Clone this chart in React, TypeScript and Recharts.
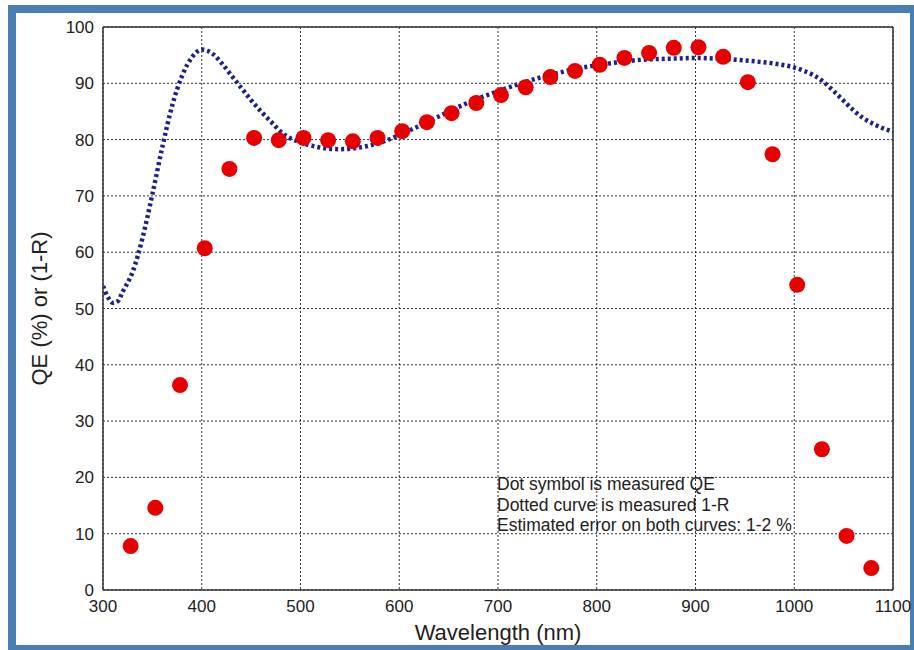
import { ComposedChart, CartesianGrid, Line, Scatter, XAxis, YAxis, ReferenceLine } from "recharts";

// measured QE (dots)
const qeWavelength = [328, 353, 378, 403, 428, 453, 478, 503, 528, 553, 578, 603, 628, 653, 678, 703, 728, 753, 778, 803, 828, 853, 878, 903, 928, 953, 978, 1003, 1028, 1053, 1078];
const qeValues = [7.8, 14.6, 36.4, 60.7, 74.8, 80.3, 79.9, 80.3, 79.9, 79.7, 80.3, 81.5, 83.1, 84.7, 86.5, 87.9, 89.3, 91.1, 92.2, 93.3, 94.5, 95.4, 96.3, 96.4, 94.7, 90.2, 77.4, 54.2, 25.0, 9.6, 3.9];

// measured 1-R (dotted curve)
const rWavelength = [300, 305, 310, 315, 320, 330, 340, 350, 360, 370, 380, 390, 400, 410, 420, 430, 440, 450, 460, 470, 480, 490, 500, 520, 540, 560, 580, 600, 620, 640, 660, 680, 700, 720, 740, 760, 780, 800, 820, 840, 860, 880, 900, 920, 940, 960, 980, 1000, 1010, 1020, 1030, 1040, 1050, 1060, 1070, 1080, 1090, 1100];
const rValues = [54, 52, 51, 51.3, 53, 56.5, 62.5, 70.3, 78.6, 86, 91.3, 94.6, 96, 95.4, 93.6, 91.4, 89.2, 87, 85, 83.2, 81.4, 80.2, 79.5, 78.6, 78.3, 78.6, 79.4, 80.8, 82.4, 84.1, 85.8, 87.3, 88.6, 89.8, 90.9, 91.8, 92.6, 93.2, 93.7, 94.1, 94.3, 94.4, 94.5, 94.4, 94.2, 93.9, 93.5, 92.8, 92.2, 91.4, 90.2, 88.6, 86.9, 85.2, 83.8, 82.8, 82.0, 81.4];

const xTicks = [300, 400, 500, 600, 700, 800, 900, 1000, 1100];
const yTicks = [0, 10, 20, 30, 40, 50, 60, 70, 80, 90, 100];

const notes = [
  "Dot symbol is measured QE",
  "Dotted curve is measured 1-R",
  "Estimated error on both curves: 1-2 %",
];

const qeData = qeWavelength.map((wl, i) => ({ wl, qe: qeValues[i] }));
const rData = rWavelength.map((wl, i) => ({ wl, r: rValues[i] }));

const font = '"Liberation Sans", Arial, sans-serif';

const RedDot = (props: any) => (
  <circle cx={props.cx} cy={props.cy} r={8} fill="#e80000" />
);

export default function App() {
  return (
    <div
      style={{
        marginLeft: 8,
        marginTop: 5,
        width: 906,
        height: 645,
        boxSizing: "border-box",
        borderStyle: "solid",
        borderColor: "#4b7fb4",
        borderWidth: "8px 4px 5px 8px",
        background: "#fff",
        position: "relative",
        fontFamily: font,
      }}
    >
      <style>{`body{margin:0;overflow:hidden}.recharts-surface{overflow:visible}`}</style>
      <ComposedChart
        width={894}
        height={632}
        margin={{ top: 14, right: 17, bottom: 0, left: 0 }}
        style={{ fontFamily: font }}
      >
        <CartesianGrid stroke="#333" strokeDasharray="2 2" strokeWidth={1} />
        <XAxis
          type="number"
          dataKey="wl"
          domain={[300, 1100]}
          ticks={xTicks}
          allowDataOverflow
          height={55}
          tickSize={0}
          tickMargin={10}
          tick={{ fontSize: 17, fill: "#222" }}
          axisLine={{ stroke: "#333", strokeWidth: 1.5 }}
          label={{ value: "Wavelength (nm)", position: "insideBottom", offset: 5, fontSize: 22, fill: "#222" }}
        />
        <YAxis
          type="number"
          domain={[0, 100]}
          ticks={yTicks}
          width={87}
          tickSize={0}
          tickMargin={9}
          tick={{ fontSize: 17, fill: "#222" }}
          axisLine={{ stroke: "#333", strokeWidth: 1.5 }}
          label={{ value: "QE (%) or (1-R)", angle: -90, position: "insideLeft", offset: 23, fontSize: 22, fill: "#222", style: { textAnchor: "middle" } }}
        />
        <ReferenceLine y={100} stroke="#333" strokeWidth={1.5} />
        <ReferenceLine x={1100} stroke="#333" strokeWidth={1.5} />
        <Line
          data={rData}
          dataKey="r"
          type="monotone"
          stroke="#1f1f90"
          strokeWidth={4.5}
          strokeDasharray="3 3"
          dot={false}
          activeDot={false}
          isAnimationActive={false}
        />
        <Scatter data={qeData} dataKey="qe" shape={RedDot} isAnimationActive={false} />
      </ComposedChart>
      <div
        style={{
          position: "absolute",
          left: 481,
          top: 461,
          fontSize: 17.5,
          lineHeight: "20.5px",
          color: "#222",
          whiteSpace: "nowrap",
        }}
      >
        {notes.map((n) => (
          <div key={n}>{n}</div>
        ))}
      </div>
    </div>
  );
}
